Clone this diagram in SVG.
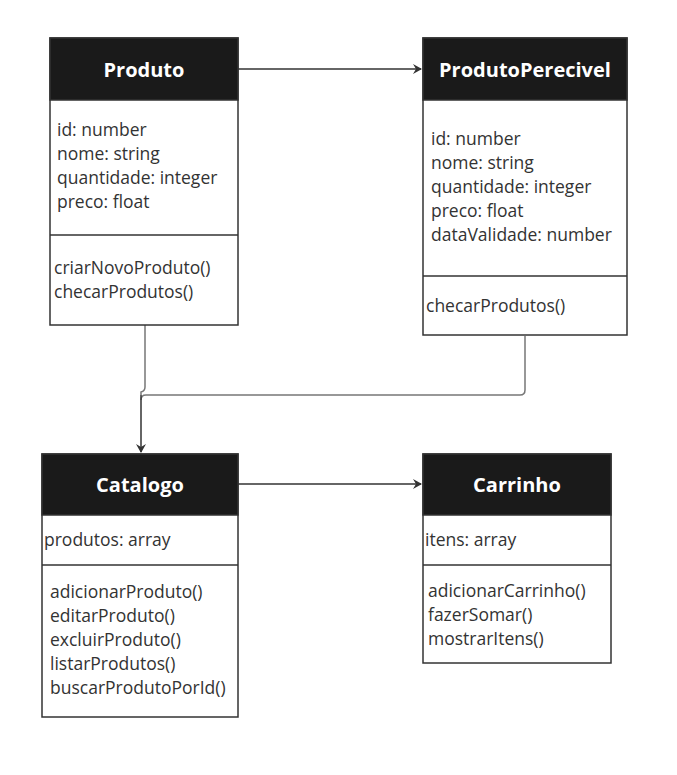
<svg xmlns="http://www.w3.org/2000/svg" width="677" height="775" viewBox="0 0 677 775">
<style>
.box{fill:#ffffff;stroke:#333333;stroke-width:1.5}
.head{fill:#1a1a1a;stroke:#333333;stroke-width:1.5}
.div{stroke:#333333;stroke-width:1.5}
.title{font-family:"Open Sans",sans-serif;font-weight:bold;font-size:20px;fill:#ffffff;text-anchor:middle}
.t{font-family:"Open Sans",sans-serif;font-size:17.5px;fill:#333333}
.conn{fill:none;stroke:#333333;stroke-width:1.5}
.conn2{fill:none;stroke:#777777;stroke-width:1.5}
</style>
<defs>
<marker id="arr" markerWidth="10" markerHeight="10" refX="8" refY="5" orient="auto" markerUnits="userSpaceOnUse">
<path d="M0,0 L9,5 L0,10 L3,5 Z" fill="#333333"/>
</marker>
</defs>
<rect width="677" height="775" fill="#ffffff"/>
<g id="connectors">
<path class="conn" d="M238,69 L421,69" marker-end="url(#arr)"/>
<path class="conn2" d="M145,325 L145,387 Q145,391 141,392 L141,395"/>
<path class="conn2" d="M525,336 L525,390 Q525,395 520,395 L146,395 Q141,395 141,400"/>
<path class="conn" d="M141,395 L141,452" marker-end="url(#arr)"/>
<path class="conn" d="M238,484 L421,484" marker-end="url(#arr)"/>
</g>
<g id="produto">
<rect class="box" x="50" y="38" width="188" height="287"/>
<rect class="head" x="50" y="38" width="188" height="62"/>
<line class="div" x1="50" y1="235" x2="238" y2="235"/>
<text class="title" x="144" y="77">Produto</text>
<text class="t" x="57" y="136">id: number</text>
<text class="t" x="57" y="160">nome: string</text>
<text class="t" x="57" y="184">quantidade: integer</text>
<text class="t" x="57" y="208">preco: float</text>
<text class="t" x="54" y="274">criarNovoProduto()</text>
<text class="t" x="54" y="298">checarProdutos()</text>
</g>
<g id="produtoPerecivel">
<rect class="box" x="423" y="38" width="204" height="297"/>
<rect class="head" x="423" y="38" width="204" height="62"/>
<line class="div" x1="423" y1="276" x2="627" y2="276"/>
<text class="title" x="525" y="77">ProdutoPerecivel</text>
<text class="t" x="431" y="145">id: number</text>
<text class="t" x="431" y="169">nome: string</text>
<text class="t" x="431" y="193">quantidade: integer</text>
<text class="t" x="431" y="217">preco: float</text>
<text class="t" x="431" y="241">dataValidade: number</text>
<text class="t" x="426" y="312">checarProdutos()</text>
</g>
<g id="catalogo">
<rect class="box" x="42" y="454" width="196" height="263"/>
<rect class="head" x="42" y="454" width="196" height="61"/>
<line class="div" x1="42" y1="565" x2="238" y2="565"/>
<text class="title" x="140" y="492">Catalogo</text>
<text class="t" x="44" y="546">produtos: array</text>
<text class="t" x="50" y="598">adicionarProduto()</text>
<text class="t" x="50" y="622">editarProduto()</text>
<text class="t" x="50" y="646">excluirProduto()</text>
<text class="t" x="50" y="670">listarProdutos()</text>
<text class="t" x="50" y="694">buscarProdutoPorId()</text>
</g>
<g id="carrinho">
<rect class="box" x="423" y="454" width="188" height="209"/>
<rect class="head" x="423" y="454" width="188" height="61"/>
<line class="div" x1="423" y1="565" x2="611" y2="565"/>
<text class="title" x="517" y="492">Carrinho</text>
<text class="t" x="425" y="546">itens: array</text>
<text class="t" x="428" y="597">adicionarCarrinho()</text>
<text class="t" x="428" y="621">fazerSomar()</text>
<text class="t" x="428" y="645">mostrarItens()</text>
</g>
</svg>
